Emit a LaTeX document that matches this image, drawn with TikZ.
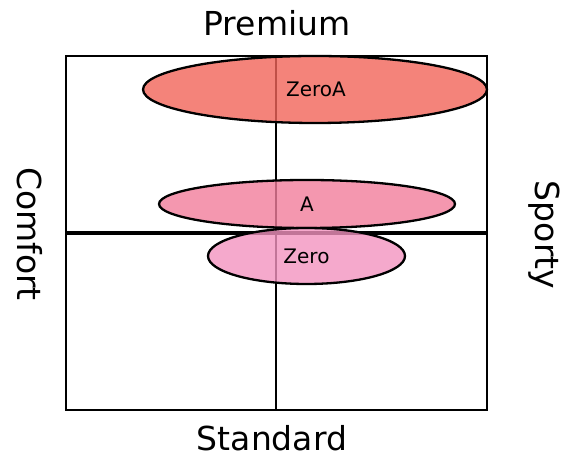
\documentclass[tikz,border=0pt]{standalone}
\usepackage{fontspec}
\setmainfont{DejaVu Sans}
\usepackage{xcolor}
\usetikzlibrary{shapes,arrows,positioning,fit,calc}
\definecolor{zeroAfill}{RGB}{241,100,89}
\definecolor{afill}{RGB}{241,125,155}
\definecolor{zerofill}{RGB}{242,147,191}
\tikzset{
    axislabel/.style={font=\fontsize{33}{36}\selectfont, inner sep=0pt},
    segment/.style={draw, line width=2.3pt, ellipse, inner sep=0pt, fill opacity=0.8, text opacity=1,
        font=\fontsize{20}{22}\selectfont}
}

\begin{document}
\begin{tikzpicture}[x=1pt,y=1pt]
        \useasboundingbox (0,0) rectangle (572,457);
        % quadrant frame
        \draw[line width=2.3pt] (66,47) rectangle (487,401);
        \draw[line width=2.3pt] (276,47) -- (276,401);
        \draw[line width=3.3pt] (66,224) -- (487,224);
        % axis labels
        \node[axislabel] (premium) at (277,434) {Premium};
        \node[axislabel] (standard) at (272,19) {Standard};
        \node[axislabel, rotate=-90] (comfort) at (30,223) {Comfort};
        \node[axislabel, rotate=-90] (sporty) at (544,222) {Sporty};
        % models
        \node[segment, fill=zeroAfill, minimum width=344pt, minimum height=67pt] (zeroA) at (315,367.5) {\hspace*{2pt}ZeroA};
        \node[segment, fill=afill, minimum width=296pt, minimum height=48pt] (modelA) at (307,253) {A};
        \node[segment, fill=zerofill, minimum width=197pt, minimum height=56pt] (zero) at (306.5,201) {Zero};
    \end{tikzpicture}
\end{document}
